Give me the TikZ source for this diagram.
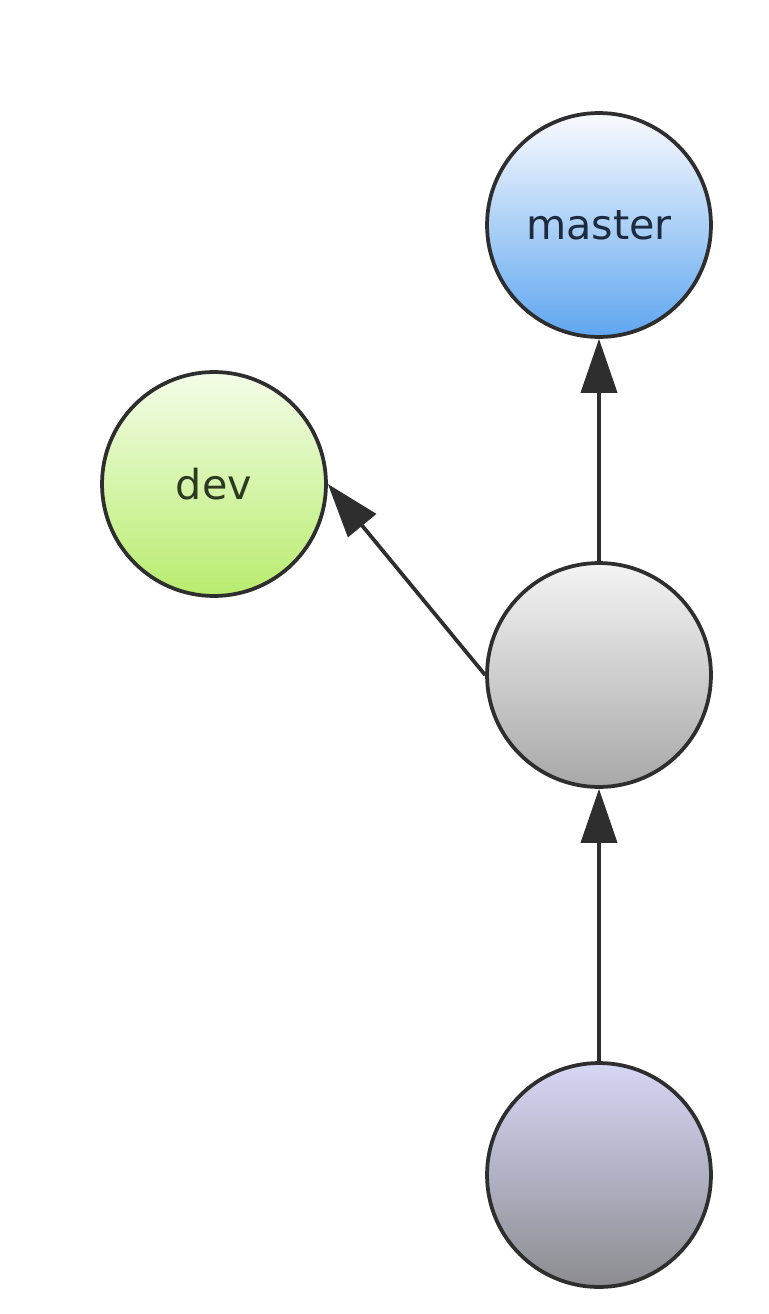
\documentclass[tikz,border=0pt]{standalone}
\usepackage{fontspec}
\setmainfont{DejaVu Sans}
\usetikzlibrary{arrows.meta}
\definecolor{edge}{HTML}{2E2E2E}
\begin{document}
\begin{tikzpicture}[x=0.02cm,y=-0.02cm,
  commit/.style={circle,draw=edge,line width=0.075cm,minimum size=4.48cm,inner sep=0pt,
    font=\fontsize{23.5}{26}\selectfont},
  link/.style={draw=edge,line width=0.075cm,-{Triangle[length=1.08cm,width=0.72cm]}}]
\useasboundingbox (0,0) rectangle (768,1314);
\node[commit,top color=white!92!blue!20,bottom color={rgb,255:red,94;green,166;blue,240},text={rgb,255:red,30;green,42;blue,62}] (master) at (599,225) {master};
\node[commit,top color={rgb,255:red,244;green,253;blue,232},bottom color={rgb,255:red,184;green,236;blue,110},text={rgb,255:red,44;green,58;blue,34}] (dev) at (214,484) {dev};
\node[commit,top color={rgb,255:red,244;green,244;blue,244},bottom color={rgb,255:red,168;green,168;blue,168}] (mid) at (599,675) {};
\node[commit,top color={rgb,255:red,214;green,214;blue,246},bottom color={rgb,255:red,140;green,140;blue,144}] (base) at (599,1175) {};
\draw[link] (mid.north) -- (master.south);
\draw[link] (mid.west) -- (dev.east);
\draw[link] (base.north) -- (mid.south);
\end{tikzpicture}
\end{document}
